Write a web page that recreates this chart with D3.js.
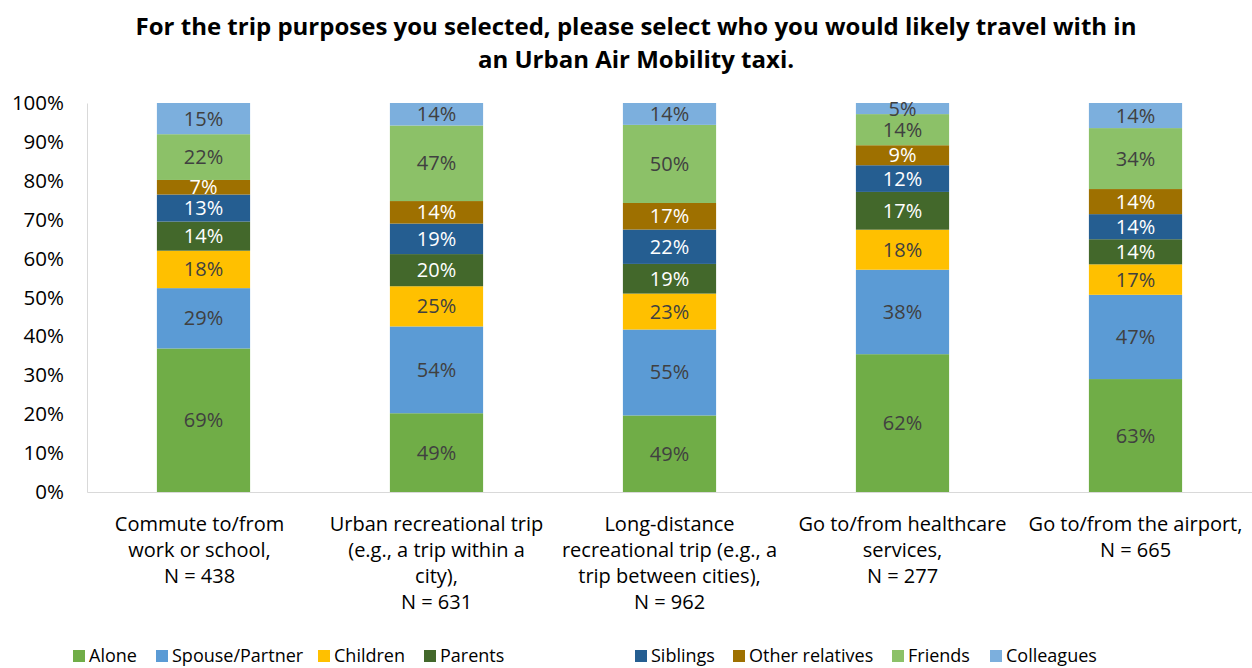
<!DOCTYPE html>
<html><head><meta charset="utf-8">
<script src="https://cdn.jsdelivr.net/npm/d3@7"></script>
<style>body{margin:0;background:#fff;} svg{display:block;font-family:"Open Sans","Noto Sans",sans-serif;}</style>
</head><body>
<svg id="chart" width="1252" height="668"></svg>
<script>
const categories = [
  ["Commute to/from","work or school,","N = 438"],
  ["Urban recreational trip","(e.g., a trip within a","city),","N = 631"],
  ["Long-distance","recreational trip (e.g., a","trip between cities),","N = 962"],
  ["Go to/from healthcare","services,","N = 277"],
  ["Go to/from the airport,","N = 665"]
];
const seriesNames = ["Alone","Spouse/Partner","Children","Parents","Siblings","Other relatives","Friends","Colleagues"];
const alone      = [69,49,49,62,63];
const spouse     = [29,54,55,38,47];
const children   = [18,25,23,18,17];
const parents    = [14,20,19,17,14];
const siblings   = [13,19,22,12,14];
const otherRel   = [7,14,17,9,14];
const friends    = [22,47,50,14,34];
const colleagues = [15,14,14,5,14];
const yTicks = [0,0.1,0.2,0.3,0.4,0.5,0.6,0.7,0.8,0.9,1.0];
const colors = ["#70AD47","#5B9BD5","#FFC000","#43682B","#255E91","#9E7000","#8CC168","#7CAFDD"];
const labelColors = ["#404040","#404040","#404040","#ffffff","#ffffff","#ffffff","#404040","#404040"];
const seriesVals = [alone,spouse,children,parents,siblings,otherRel,friends,colleagues];

(function(){
const svg = d3.select("#chart");
const pLeft = 87, pRight = 1252, pTop = 103, pBottom = 492;
const x = d3.scaleBand().domain(d3.range(categories.length)).range([pLeft,pRight]).paddingInner(0.6).paddingOuter(0.3);
const y = d3.scaleLinear().domain([0,1]).range([pBottom,pTop]);

svg.append("text").attr("x",636).attr("y",35).attr("text-anchor","middle")
  .attr("font-size",24).attr("font-weight","bold").attr("fill","#000")
  .text("For the trip purposes you selected, please select who you would likely travel with in");
svg.append("text").attr("x",636).attr("y",68).attr("text-anchor","middle")
  .attr("font-size",24).attr("font-weight","bold").attr("fill","#000")
  .text("an Urban Air Mobility taxi.");

const yAxis = d3.axisLeft(y).tickValues(yTicks).tickFormat(d3.format(".0%")).tickSize(0).tickPadding(23);
const gy = svg.append("g").attr("transform",`translate(${pLeft},0)`).call(yAxis);
gy.select(".domain").attr("stroke","#D9D9D9");
gy.selectAll("text").attr("font-size",20.5).attr("fill","#000").attr("font-family","'Open Sans',sans-serif");

const stackData = categories.map((c,i)=>{
  const vals = seriesVals.map(s=>s[i]);
  const total = d3.sum(vals);
  const o = {i};
  seriesNames.forEach((n,k)=>{o[n]=vals[k]/total; o["raw"+k]=vals[k];});
  return o;
});
const stack = d3.stack().keys(seriesNames)(stackData);
stack.forEach((layer,k)=>{
  const g = svg.append("g");
  g.selectAll("rect").data(layer).join("rect")
    .attr("x",d=>x(d.data.i)).attr("width",x.bandwidth())
    .attr("y",d=>y(d[1])).attr("height",d=>y(d[0])-y(d[1]))
    .attr("fill",colors[k]);
  g.selectAll("text").data(layer).join("text")
    .attr("x",d=>x(d.data.i)+x.bandwidth()/2)
    .attr("y",d=>(y(d[0])+y(d[1]))/2)
    .attr("dy","0.35em").attr("text-anchor","middle")
    .attr("font-size",20).attr("fill",labelColors[k])
    .text(d=>d.data["raw"+k]+"%");
});

const xAxis = d3.axisBottom(x).tickSize(0).tickFormat("");
const gx = svg.append("g").attr("transform",`translate(0,${pBottom})`).call(xAxis);
gx.select(".domain").attr("stroke","#D9D9D9");
categories.forEach((lines,i)=>{
  const t = svg.append("text").attr("text-anchor","middle").attr("font-size",20).attr("fill","#000");
  lines.forEach((ln,j)=>{
    t.append("tspan").attr("x",x(i)+x.bandwidth()/2 - (i===0?4:0)).attr("y",531+j*26).text(ln);
  });
});

const legX = [73,156,318,424,635,733,892,990];
seriesNames.forEach((n,k)=>{
  svg.append("rect").attr("x",legX[k]).attr("y",650).attr("width",12).attr("height",12).attr("fill",colors[k]);
  svg.append("text").attr("x",legX[k]+16).attr("y",662).attr("font-size",18).attr("fill","#000").text(n);
});
})();
</script>
</body></html>
